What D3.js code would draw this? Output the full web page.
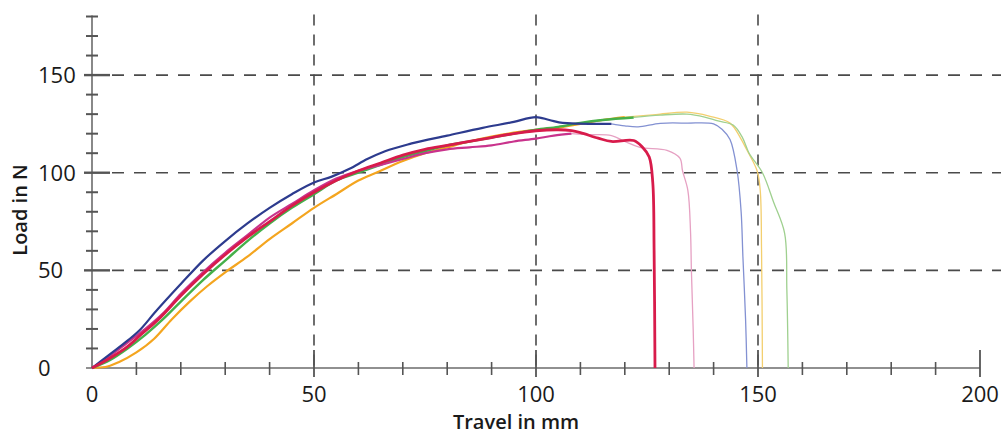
<!DOCTYPE html>
<html>
<head>
<meta charset="utf-8">
<script src="https://cdn.jsdelivr.net/npm/d3@7"></script>
<style>
  body { margin: 0; background: #fff; }
  text { font-family: "Open Sans", "Noto Sans", sans-serif; fill: #1a1a1a; }
</style>
</head>
<body>
<div id="plot"></div>
<script>
// tick values
const xMajorTicks = [0, 50, 100, 150, 200];
const yMajorTicks = [0, 50, 100, 150];
const xMinorTicks = d3.range(0, 201, 10);
const yMinorTicks = d3.range(10, 181, 10);

// specimen curves [travel mm, load N] - main part
const blueMain = [[0,0],[4,7],[8,14],[11,20],[14,28],[20,43],[25,55],[30,65],[35,74],[40,82],[45,89],[50,95],[54,98],[58,102],[62,107],[66,111],[72,115],[80,119],[88,123],[95,126],[100,128.5],[103,127],[106,125.5],[112,125],[117,125]];
const redMain = [[0,0],[4,5],[8,11],[11,17],[15,25],[20,37],[25,48],[30,58],[35,67],[40,75],[45,83],[50,90],[55,96],[60,101],[65,105],[70,109],[75,112],[80,114],[85,116],[90,118],[95,120],[100,121.5],[105,122],[108,121.5],[110,120.5],[114,117.7],[117,116],[122,116.5],[124,113],[125.5,108],[126.3,95],[126.6,60],[126.8,0]];
const magentaMain = [[0,0],[4,6],[8,13],[12,20],[16,28],[20,38],[25,49],[30,59],[35,68],[40,77],[45,84],[50,91],[55,97],[60,101],[65,104],[70,107],[75,110],[80,112],[85,113],[90,114],[95,116],[100,117.5],[104,119],[108,120]];
const greenMain = [[0,0],[4,4],[8,10],[12,17],[16,25],[20,34],[25,45],[30,55],[35,65],[40,74],[45,82],[50,89],[55,96],[60,100],[65,104],[70,108],[75,111],[80,114],[85,116],[90,118],[95,120],[100,122],[105,123.5],[110,125.5],[115,127],[122,128.3]];
const orangeMain = [[0,0],[3,0.5],[6,3],[10,8],[14,15],[18,25],[22,34],[26,42],[30,49],[35,57],[40,66],[45,74],[50,82],[55,89],[60,96],[64,100],[70,106],[75,110],[80,113],[85,116],[90,118.5],[95,120.5],[100,122],[105,123],[110,125],[115,127],[120,128.5]];

// tails after the maximum (thin, light)
const blueTail = [[117,125],[120,124],[123,123.5],[128,125.3],[134,125.4],[140,125],[142,122],[143.7,117],[145.3,101],[146.2,80],[146.6,57],[147.2,25],[147.5,0]];
const magentaTail = [[108,120],[112,119.5],[117,119],[120,116],[123.4,113],[129.5,111.5],[132.4,107.5],[133,101],[134.2,91],[134.8,70],[135,50],[135.4,20],[135.6,0]];
const greenTail = [[122,128.3],[128,129.5],[134,130],[138,128.5],[141,126.5],[144.4,124.4],[146.5,118],[148,110],[151,100],[153.5,85],[156,69],[156.5,40],[156.8,0]];
const orangeTail = [[120,128.5],[127,129.8],[134,131],[139,129],[143.7,125.4],[146,118],[147.5,111.6],[149.8,101],[150.5,91],[150.8,60],[151,0]];

const width = 1001, height = 434;

const svg = d3.select("#plot")
    .append("svg")
    .attr("width", width)
    .attr("height", height);

const x = d3.scaleLinear().domain([0, 200]).range([92, 980]);
const y = d3.scaleLinear().domain([0, 180]).range([368, 16.5]);

// dashed grid
svg.append("g")
    .selectAll("line")
    .data(yMajorTicks.filter(d => d > 0))
    .enter()
    .append("line")
    .attr("x1", 112).attr("x2", 1001)
    .attr("y1", d => y(d)).attr("y2", d => y(d))
    .attr("stroke", "#4a4a4a").attr("stroke-width", 1.6)
    .attr("stroke-dasharray", "12,10");

svg.append("g")
    .selectAll("line")
    .data(xMajorTicks.filter(d => d > 0 && d < 200))
    .enter()
    .append("line")
    .attr("x1", d => x(d)).attr("x2", d => x(d))
    .attr("y1", y(180) - 2).attr("y2", y(0))
    .attr("stroke", "#4a4a4a").attr("stroke-width", 1.6)
    .attr("stroke-dasharray", "11,9");

// axes lines
svg.append("line")
    .attr("x1", x(0) - 6).attr("x2", x(200))
    .attr("y1", y(0)).attr("y2", y(0))
    .attr("stroke", "#6b6b6b").attr("stroke-width", 1.6);
svg.append("line")
    .attr("x1", x(0)).attr("x2", x(0))
    .attr("y1", y(0)).attr("y2", y(180) - 1)
    .attr("stroke", "#6b6b6b").attr("stroke-width", 1.6);

// y ticks
svg.append("g")
    .selectAll("line")
    .data(yMinorTicks.filter(d => d % 50 !== 0))
    .enter()
    .append("line")
    .attr("x1", x(0) - 6).attr("x2", x(0) + 6)
    .attr("y1", d => y(d)).attr("y2", d => y(d))
    .attr("stroke", "#555").attr("stroke-width", 2);
svg.append("g")
    .selectAll("line")
    .data(yMajorTicks.filter(d => d > 0))
    .enter()
    .append("line")
    .attr("x1", x(0) - 8).attr("x2", x(0) + 18)
    .attr("y1", d => y(d)).attr("y2", d => y(d))
    .attr("stroke", "#555").attr("stroke-width", 2.4);

// x ticks
svg.append("g")
    .selectAll("line")
    .data(xMinorTicks.filter(d => d % 50 !== 0))
    .enter()
    .append("line")
    .attr("x1", d => x(d)).attr("x2", d => x(d))
    .attr("y1", y(0) - 6).attr("y2", y(0) + 7)
    .attr("stroke", "#555").attr("stroke-width", 1.6);
svg.append("g")
    .selectAll("line")
    .data(xMajorTicks.filter(d => d > 0))
    .enter()
    .append("line")
    .attr("x1", d => x(d)).attr("x2", d => x(d))
    .attr("y1", y(0) - 18).attr("y2", y(0) + 9)
    .attr("stroke", "#555").attr("stroke-width", 1.8);

// tick labels
svg.append("g")
    .selectAll("text")
    .data(yMajorTicks)
    .enter()
    .append("text")
    .attr("x", 38)
    .attr("y", d => y(d))
    .attr("dy", "0.36em")
    .attr("font-size", 22)
    .text(d => d);

svg.append("g")
    .selectAll("text")
    .data(xMajorTicks)
    .enter()
    .append("text")
    .attr("x", d => x(d))
    .attr("y", 402)
    .attr("text-anchor", "middle")
    .attr("font-size", 22)
    .text(d => d);

// axis titles
svg.append("text")
    .attr("x", 516)
    .attr("y", 429)
    .attr("text-anchor", "middle")
    .attr("font-size", 20)
    .attr("font-weight", 600)
    .text("Travel in mm");

svg.append("text")
    .attr("transform", "translate(27,210) rotate(-90)")
    .attr("text-anchor", "middle")
    .attr("font-size", 20)
    .attr("font-weight", 600)
    .text("Load in N");

// curves
const line = d3.line()
    .x(d => x(d[0]))
    .y(d => y(d[1]))
    .curve(d3.curveMonotoneX);
const lineTail = d3.line()
    .x(d => x(d[0]))
    .y(d => y(d[1]))
    .curve(d3.curveCatmullRom.alpha(0.5));

const tails = [
    {data: orangeTail, color: "#f3cf6f"},
    {data: greenTail, color: "#9fd08f"},
    {data: blueTail, color: "#8391d2"},
    {data: magentaTail, color: "#e6a1c3"}
];
tails.forEach(s => {
    svg.append("path")
        .datum(s.data)
        .attr("fill", "none")
        .attr("stroke", s.color)
        .attr("stroke-width", 1.3)
        .attr("d", lineTail);
});

const mains = [
    {data: orangeMain, color: "#f4a51f", w: 2.2},
    {data: greenMain, color: "#45b04a", w: 2.4},
    {data: magentaMain, color: "#c9338c", w: 2.2},
    {data: blueMain, color: "#2d3b8e", w: 2.2},
    {data: redMain, color: "#d81b4b", w: 2.8}
];
mains.forEach(s => {
    svg.append("path")
        .datum(s.data)
        .attr("fill", "none")
        .attr("stroke", s.color)
        .attr("stroke-width", s.w)
        .attr("stroke-linejoin", "round")
        .attr("d", s.data === redMain ? lineTail : line);
});
</script>
</body>
</html>
